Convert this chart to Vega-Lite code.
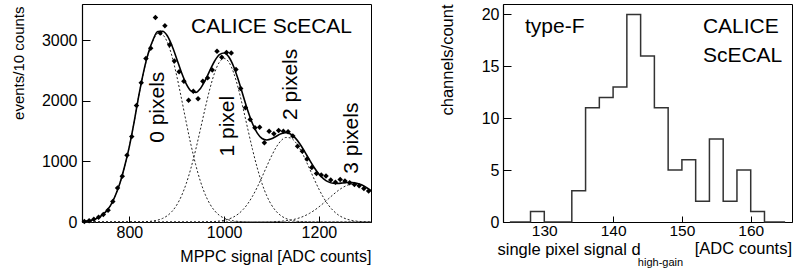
{
  "$schema": "https://vega.github.io/schema/vega-lite/v6.json",
  "background": "white",
  "padding": {"left": 10, "top": 3, "right": 0, "bottom": 0},
  "bounds": "flush",
  "spacing": 132,
  "config": {
    "font": "Liberation Sans",
    "view": {"stroke": "#000", "strokeWidth": 1},
    "axis": {
      "domainColor": "#000", "tickColor": "#000", "labelColor": "#000", "titleColor": "#000",
      "labelFontSize": 16, "titleFontSize": 16, "titleFontWeight": "normal",
      "grid": false, "labelFont": "Liberation Sans", "titleFont": "Liberation Sans",
      "domainWidth": 1.2, "tickWidth": 1, "labelFlush": false, "labelOverlap": false, "format": "d"
    },
    "text": {"font": "Liberation Sans", "color": "#000"}
  },
  "datasets": {
    "points": [
      {"adc": 705, "events": 8}, {"adc": 715, "events": 20}, {"adc": 725, "events": 44}, {"adc": 735, "events": 80},
      {"adc": 745, "events": 125}, {"adc": 755, "events": 195}, {"adc": 765, "events": 340}, {"adc": 775, "events": 560},
      {"adc": 785, "events": 755}, {"adc": 795, "events": 1104}, {"adc": 805, "events": 1410}, {"adc": 815, "events": 1922},
      {"adc": 825, "events": 2300}, {"adc": 835, "events": 2700}, {"adc": 845, "events": 2870}, {"adc": 855, "events": 3377},
      {"adc": 865, "events": 3120}, {"adc": 875, "events": 3240}, {"adc": 885, "events": 2927}, {"adc": 895, "events": 2660},
      {"adc": 905, "events": 2480}, {"adc": 915, "events": 2323}, {"adc": 925, "events": 2010}, {"adc": 935, "events": 2160},
      {"adc": 945, "events": 2037}, {"adc": 955, "events": 2323}, {"adc": 965, "events": 2380}, {"adc": 975, "events": 2510},
      {"adc": 985, "events": 2820}, {"adc": 995, "events": 2720}, {"adc": 1005, "events": 2800}, {"adc": 1015, "events": 2790},
      {"adc": 1025, "events": 2520}, {"adc": 1035, "events": 2203}, {"adc": 1045, "events": 1885}, {"adc": 1055, "events": 1692},
      {"adc": 1065, "events": 1555}, {"adc": 1075, "events": 1566}, {"adc": 1085, "events": 1308}, {"adc": 1095, "events": 1500},
      {"adc": 1105, "events": 1456}, {"adc": 1115, "events": 1511}, {"adc": 1125, "events": 1500}, {"adc": 1135, "events": 1489},
      {"adc": 1145, "events": 1420}, {"adc": 1155, "events": 1250}, {"adc": 1165, "events": 1170}, {"adc": 1175, "events": 1040},
      {"adc": 1185, "events": 900}, {"adc": 1195, "events": 800}, {"adc": 1205, "events": 775}, {"adc": 1215, "events": 758},
      {"adc": 1225, "events": 692}, {"adc": 1235, "events": 655}, {"adc": 1245, "events": 700}, {"adc": 1255, "events": 676},
      {"adc": 1265, "events": 650}, {"adc": 1275, "events": 621}, {"adc": 1285, "events": 600}, {"adc": 1295, "events": 555},
      {"adc": 1305, "events": 511}
    ],
    "fit": [
      {"adc": 700, "total": 8, "g0": 8, "g1": 0, "g2": 0, "g3": 0},
      {"adc": 710, "total": 16, "g0": 16, "g1": 0, "g2": 0, "g3": 0},
      {"adc": 720, "total": 30, "g0": 30, "g1": 0, "g2": 0, "g3": 0},
      {"adc": 730, "total": 56, "g0": 56, "g1": 0, "g2": 0, "g3": 0},
      {"adc": 740, "total": 99, "g0": 99, "g1": 0, "g2": 0, "g3": 0},
      {"adc": 750, "total": 167, "g0": 167, "g1": 0, "g2": 0, "g3": 0},
      {"adc": 760, "total": 271, "g0": 271, "g1": 0, "g2": 0, "g3": 0},
      {"adc": 770, "total": 430, "g0": 430, "g1": 0, "g2": 0, "g3": 0},
      {"adc": 780, "total": 640, "g0": 640, "g1": 0, "g2": 0, "g3": 0},
      {"adc": 790, "total": 920, "g0": 920, "g1": 0, "g2": 0, "g3": 0},
      {"adc": 800, "total": 1250, "g0": 1250, "g1": 0, "g2": 0, "g3": 0},
      {"adc": 810, "total": 1650, "g0": 1649, "g1": 1, "g2": 0, "g3": 0},
      {"adc": 820, "total": 2090, "g0": 2088, "g1": 2, "g2": 0, "g3": 0},
      {"adc": 830, "total": 2480, "g0": 2476, "g1": 4, "g2": 0, "g3": 0},
      {"adc": 840, "total": 2790, "g0": 2782, "g1": 8, "g2": 0, "g3": 0},
      {"adc": 850, "total": 3010, "g0": 2993, "g1": 17, "g2": 0, "g3": 0},
      {"adc": 860, "total": 3145, "g0": 3113, "g1": 32, "g2": 0, "g3": 0},
      {"adc": 870, "total": 3150, "g0": 3091, "g1": 59, "g2": 0, "g3": 0},
      {"adc": 880, "total": 3075, "g0": 2971, "g1": 104, "g2": 0, "g3": 0},
      {"adc": 890, "total": 2910, "g0": 2736, "g1": 175, "g2": 0, "g3": 0},
      {"adc": 900, "total": 2693, "g0": 2412, "g1": 281, "g2": 0, "g3": 0},
      {"adc": 910, "total": 2468, "g0": 2037, "g1": 432, "g2": 0, "g3": 0},
      {"adc": 920, "total": 2281, "g0": 1646, "g1": 634, "g2": 0, "g3": 0},
      {"adc": 930, "total": 2165, "g0": 1274, "g1": 891, "g2": 0, "g3": 0},
      {"adc": 940, "total": 2140, "g0": 945, "g1": 1195, "g2": 0, "g3": 0},
      {"adc": 950, "total": 2205, "g0": 671, "g1": 1533, "g2": 1, "g3": 0},
      {"adc": 960, "total": 2337, "g0": 456, "g1": 1880, "g2": 2, "g3": 0},
      {"adc": 970, "total": 2503, "g0": 297, "g1": 2202, "g2": 4, "g3": 0},
      {"adc": 980, "total": 2659, "g0": 185, "g1": 2466, "g2": 8, "g3": 0},
      {"adc": 990, "total": 2765, "g0": 110, "g1": 2640, "g2": 16, "g3": 0},
      {"adc": 1000, "total": 2791, "g0": 63, "g1": 2700, "g2": 28, "g3": 0},
      {"adc": 1010, "total": 2724, "g0": 34, "g1": 2640, "g2": 50, "g3": 0},
      {"adc": 1020, "total": 2568, "g0": 18, "g1": 2466, "g2": 83, "g3": 0},
      {"adc": 1030, "total": 2345, "g0": 9, "g1": 2202, "g2": 134, "g3": 0},
      {"adc": 1040, "total": 2090, "g0": 4, "g1": 1880, "g2": 206, "g3": 0},
      {"adc": 1050, "total": 1838, "g0": 2, "g1": 1533, "g2": 303, "g3": 0},
      {"adc": 1060, "total": 1623, "g0": 1, "g1": 1195, "g2": 427, "g3": 0},
      {"adc": 1070, "total": 1467, "g0": 0, "g1": 891, "g2": 576, "g3": 1},
      {"adc": 1080, "total": 1379, "g0": 0, "g1": 634, "g2": 744, "g3": 1},
      {"adc": 1090, "total": 1354, "g0": 0, "g1": 432, "g2": 920, "g3": 2},
      {"adc": 1100, "total": 1374, "g0": 0, "g1": 281, "g2": 1089, "g3": 4},
      {"adc": 1110, "total": 1417, "g0": 0, "g1": 175, "g2": 1236, "g3": 7},
      {"adc": 1120, "total": 1457, "g0": 0, "g1": 104, "g2": 1342, "g3": 12},
      {"adc": 1130, "total": 1474, "g0": 0, "g1": 59, "g2": 1395, "g3": 20},
      {"adc": 1140, "total": 1452, "g0": 0, "g1": 32, "g2": 1389, "g3": 31},
      {"adc": 1150, "total": 1389, "g0": 0, "g1": 17, "g2": 1324, "g3": 48},
      {"adc": 1160, "total": 1288, "g0": 0, "g1": 8, "g2": 1209, "g3": 71},
      {"adc": 1170, "total": 1162, "g0": 0, "g1": 4, "g2": 1057, "g3": 102},
      {"adc": 1180, "total": 1028, "g0": 0, "g1": 2, "g2": 885, "g3": 142},
      {"adc": 1190, "total": 901, "g0": 0, "g1": 1, "g2": 709, "g3": 191},
      {"adc": 1200, "total": 793, "g0": 0, "g1": 0, "g2": 544, "g3": 249},
      {"adc": 1210, "total": 713, "g0": 0, "g1": 0, "g2": 400, "g3": 313},
      {"adc": 1220, "total": 663, "g0": 0, "g1": 0, "g2": 281, "g3": 382},
      {"adc": 1230, "total": 640, "g0": 0, "g1": 0, "g2": 190, "g3": 451},
      {"adc": 1240, "total": 637, "g0": 0, "g1": 0, "g2": 122, "g3": 515},
      {"adc": 1250, "total": 644, "g0": 0, "g1": 0, "g2": 76, "g3": 568},
      {"adc": 1260, "total": 652, "g0": 0, "g1": 0, "g2": 45, "g3": 607},
      {"adc": 1270, "total": 653, "g0": 0, "g1": 0, "g2": 25, "g3": 627},
      {"adc": 1280, "total": 641, "g0": 0, "g1": 0, "g2": 14, "g3": 627},
      {"adc": 1290, "total": 614, "g0": 0, "g1": 0, "g2": 7, "g3": 607},
      {"adc": 1300, "total": 572, "g0": 0, "g1": 0, "g2": 4, "g3": 568},
      {"adc": 1310, "total": 516, "g0": 0, "g1": 0, "g2": 2, "g3": 515}
    ],
    "peakLabels": [
      {"adc": 861, "events": 1895, "label": "0 pixels"},
      {"adc": 1008, "events": 1582, "label": "1 pixel"},
      {"adc": 1142, "events": 2273, "label": "2 pixels"},
      {"adc": 1270, "events": 1384, "label": "3 pixels"}
    ],
    "leftTag": [{"adc": 930, "events": 3114, "label": "CALICE ScECAL"}],
    "hist": [
      {"signal": 125, "channels": 0}, {"signal": 127, "channels": 0}, {"signal": 129, "channels": 1},
      {"signal": 131, "channels": 0}, {"signal": 133, "channels": 0}, {"signal": 135, "channels": 3},
      {"signal": 137, "channels": 11}, {"signal": 139, "channels": 12}, {"signal": 141, "channels": 13},
      {"signal": 143, "channels": 20}, {"signal": 145, "channels": 16}, {"signal": 147, "channels": 11},
      {"signal": 149, "channels": 5}, {"signal": 151, "channels": 6}, {"signal": 153, "channels": 2},
      {"signal": 155, "channels": 8}, {"signal": 157, "channels": 2}, {"signal": 159, "channels": 5},
      {"signal": 161, "channels": 1}, {"signal": 163, "channels": 0}, {"signal": 165, "channels": 0}
    ],
    "rightTags": [
      {"signal": 127.2, "channels": 18.25, "label": "type-F"},
      {"signal": 153.05, "channels": 18.17, "label": "CALICE"},
      {"signal": 153.05, "channels": 15.4, "label": "ScECAL"}
    ],
    "unitTag": [{"signal": 166, "channels": -3.1, "label": "[ADC counts]"}],
    "subTag": [{"signal": 143.6, "channels": -4.25, "label": "high-gain"}]
  },
  "hconcat": [
    {
      "width": 289,
      "height": 218,
      "encoding": {
        "x": {
          "field": "adc", "type": "quantitative",
          "scale": {"domain": [700, 1310], "nice": false, "zero": false},
          "axis": {
            "title": "MPPC signal [ADC counts]", "values": [800, 1000, 1200],
            "tickSize": -6, "labelPadding": 8,
            "titleAnchor": "end", "titleAlign": "right", "titleBaseline": "alphabetic",
            "titleX": 289, "titleY": 39
          }
        },
        "y": {
          "field": "events", "type": "quantitative",
          "scale": {"domain": [0, 3600], "nice": false, "zero": false},
          "axis": {
            "title": "events/10 counts", "values": [0, 1000, 2000, 3000],
            "tickSize": -8, "labelPadding": 13,
            "titleAngle": 270, "titleAlign": "right", "titleBaseline": "middle",
            "titleX": -64, "titleY": 2, "titleFontSize": 15
          }
        }
      },
      "layer": [
        {
          "data": {"name": "fit"},
          "transform": [{"fold": ["g0", "g1", "g2", "g3"], "as": ["curve", "events"]}],
          "mark": {"type": "line", "interpolate": "monotone", "strokeDash": [2, 2], "strokeWidth": 1, "color": "#222"},
          "encoding": {"detail": {"field": "curve"}}
        },
        {
          "data": {"name": "fit"},
          "transform": [{"fold": ["total"], "as": ["curve", "events"]}],
          "mark": {"type": "line", "interpolate": "monotone", "strokeWidth": 1.6, "color": "#000"}
        },
        {
          "data": {"name": "points"},
          "mark": {"type": "point", "shape": "diamond", "filled": true, "size": 30, "color": "#000", "opacity": 1}
        },
        {
          "data": {"name": "peakLabels"},
          "mark": {"type": "text", "angle": 270, "align": "center", "baseline": "middle", "fontSize": 21},
          "encoding": {"text": {"field": "label"}}
        },
        {
          "data": {"name": "leftTag"},
          "mark": {"type": "text", "align": "left", "baseline": "alphabetic", "fontSize": 21},
          "encoding": {"text": {"field": "label"}}
        }
      ]
    },
    {
      "width": 289,
      "height": 218,
      "encoding": {
        "x": {
          "field": "signal", "type": "quantitative",
          "scale": {"domain": [124, 166], "nice": false, "zero": false},
          "axis": {
            "title": "single pixel signal d", "values": [130, 140, 150, 160],
            "tickSize": -6, "labelPadding": 7, "labelFontSize": 15.5,
            "titleAnchor": "start", "titleAlign": "left", "titleBaseline": "alphabetic",
            "titleX": -6, "titleY": 32, "titleFontSize": 16.5
          }
        },
        "y": {
          "field": "channels", "type": "quantitative",
          "scale": {"domain": [0, 21], "nice": false, "zero": false},
          "axis": {
            "title": "channels/count", "values": [0, 5, 10, 15, 20],
            "tickSize": -8, "labelPadding": 12,
            "titleAngle": 270, "titleAlign": "right", "titleBaseline": "middle",
            "titleX": -56, "titleY": 0, "titleFontSize": 16.5
          }
        }
      },
      "layer": [
        {
          "data": {"name": "hist"},
          "mark": {"type": "line", "interpolate": "step", "strokeWidth": 1.5, "color": "#333"}
        },
        {
          "data": {"name": "rightTags"},
          "mark": {"type": "text", "align": "left", "baseline": "alphabetic", "fontSize": 21},
          "encoding": {"text": {"field": "label"}}
        },
        {
          "data": {"name": "unitTag"},
          "mark": {"type": "text", "align": "right", "baseline": "alphabetic", "fontSize": 16.5},
          "encoding": {"text": {"field": "label"}}
        },
        {
          "data": {"name": "subTag"},
          "mark": {"type": "text", "align": "left", "baseline": "alphabetic", "fontSize": 11},
          "encoding": {"text": {"field": "label"}}
        }
      ]
    }
  ]
}
